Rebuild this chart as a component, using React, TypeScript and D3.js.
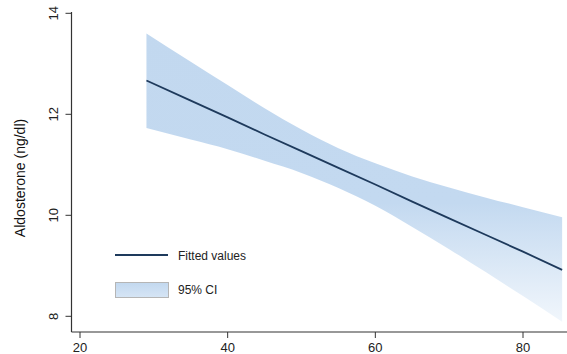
import { useRef, useEffect } from 'react';
import * as d3 from 'd3';

// values
const ageX = [29, 35, 40, 45, 50, 55, 60, 65, 70, 75, 80, 85.3];
const fitted = [12.67, 12.27, 11.94, 11.6, 11.27, 10.94, 10.61, 10.27, 9.94, 9.61, 9.28, 8.92];
const ciLow = [11.73, 11.5, 11.31, 11.08, 10.84, 10.54, 10.19, 9.77, 9.33, 8.87, 8.4, 7.89];
const ciHigh = [13.6, 13.04, 12.58, 12.12, 11.7, 11.33, 11.03, 10.77, 10.55, 10.35, 10.16, 9.96];
const xTicks = [20, 40, 60, 80];
const yTicks = [8, 10, 12, 14];

const W = 567, H = 354;
const FONT = "'Liberation Sans', Arial, sans-serif";

export default function App() {
  const svgRef = useRef<SVGSVGElement | null>(null);

  useEffect(() => {
    document.body.style.margin = '0';
    const svg = d3.select(svgRef.current);
    svg.selectAll('*').remove();
    svg.attr('width', W).attr('height', H).style('display', 'block');

    const x = d3.scaleLinear().domain([20, 80]).range([80, 523]);
    const y = d3.scaleLinear().domain([8, 14]).range([316.3, 13.3]);
    const axisX0 = 71.5, axisY0 = 332;

    const defs = svg.append('defs');
    const band = defs.append('linearGradient')
      .attr('id', 'bandGrad')
      .attr('gradientUnits', 'userSpaceOnUse')
      .attr('x1', 0).attr('y1', 20).attr('x2', 0).attr('y2', 325);
    band.append('stop').attr('offset', 0).attr('stop-color', '#c2d8ef');
    band.append('stop').attr('offset', 0.6).attr('stop-color', '#c3d9f0');
    band.append('stop').attr('offset', 1).attr('stop-color', '#f2f7fc');
    const legGrad = defs.append('linearGradient')
      .attr('id', 'legGrad')
      .attr('x1', 0).attr('y1', 0).attr('x2', 0).attr('y2', 1);
    legGrad.append('stop').attr('offset', 0).attr('stop-color', '#c2d8ef');
    legGrad.append('stop').attr('offset', 1).attr('stop-color', '#d6e5f5');

    const pts = ageX.map((a, i) => ({ a, f: fitted[i], lo: ciLow[i], hi: ciHigh[i] }));

    // CI band
    const area = d3.area<typeof pts[0]>()
      .x(d => x(d.a))
      .y0(d => y(d.lo))
      .y1(d => y(d.hi))
      .curve(d3.curveMonotoneX);
    svg.append('path')
      .datum(pts)
      .attr('d', area)
      .attr('fill', 'url(#bandGrad)');

    // fitted line
    const line = d3.line<typeof pts[0]>()
      .x(d => x(d.a))
      .y(d => y(d.f));
    svg.append('path')
      .datum(pts)
      .attr('d', line)
      .attr('fill', 'none')
      .attr('stroke', '#1e3a5c')
      .attr('stroke-width', 1.8);

    // axes
    svg.append('line')
      .attr('x1', axisX0).attr('x2', axisX0)
      .attr('y1', 12).attr('y2', axisY0)
      .attr('stroke', '#333').attr('stroke-width', 1.2);
    svg.append('line')
      .attr('x1', axisX0).attr('x2', W)
      .attr('y1', axisY0).attr('y2', axisY0)
      .attr('stroke', '#333').attr('stroke-width', 1.2);

    xTicks.forEach(t => {
      svg.append('line')
        .attr('x1', x(t)).attr('x2', x(t))
        .attr('y1', axisY0).attr('y2', axisY0 + 6)
        .attr('stroke', '#333');
      svg.append('text')
        .attr('x', x(t)).attr('y', 352)
        .attr('text-anchor', 'middle')
        .attr('font-family', FONT).attr('font-size', 13)
        .attr('fill', '#222')
        .text(t);
    });

    yTicks.forEach(t => {
      svg.append('line')
        .attr('x1', axisX0 - 6).attr('x2', axisX0)
        .attr('y1', y(t)).attr('y2', y(t))
        .attr('stroke', '#333');
      svg.append('text')
        .attr('transform', `translate(58,${y(t)}) rotate(-90)`)
        .attr('text-anchor', 'middle')
        .attr('font-family', FONT).attr('font-size', 13)
        .attr('fill', '#222')
        .text(t);
    });

    svg.append('text')
      .attr('transform', `translate(25,${(12 + axisY0) / 2 + 6}) rotate(-90)`)
      .attr('text-anchor', 'middle')
      .attr('font-family', FONT).attr('font-size', 14)
      .attr('fill', '#111')
      .text('Aldosterone (ng/dl)');

    // legend
    svg.append('line')
      .attr('x1', 115).attr('x2', 168)
      .attr('y1', 255).attr('y2', 255)
      .attr('stroke', '#1e3a5c').attr('stroke-width', 1.8);
    svg.append('text')
      .attr('x', 178).attr('y', 260)
      .attr('font-family', FONT).attr('font-size', 12)
      .attr('fill', '#222')
      .text('Fitted values');
    svg.append('rect')
      .attr('x', 115.5).attr('y', 282.5)
      .attr('width', 53).attr('height', 15)
      .attr('fill', 'url(#legGrad)')
      .attr('stroke', '#b5b5b5');
    svg.append('text')
      .attr('x', 178).attr('y', 294)
      .attr('font-family', FONT).attr('font-size', 12)
      .attr('fill', '#222')
      .text('95% CI');
  }, []);

  return <svg ref={svgRef}></svg>;
}
